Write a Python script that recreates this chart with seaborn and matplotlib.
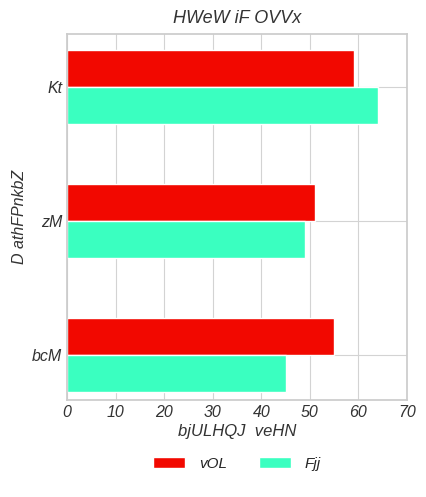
import matplotlib
matplotlib.use("Agg")
import matplotlib.pyplot as plt
import seaborn as sns
import pandas as pd

categories = ["Kt", "zM", "bcM"]
series_names = ["vOL", "Fjj"]
vol_values = [59, 51, 55]
fjj_values = [64, 49, 45]
colors = ["#f20800", "#3affc0"]
title = "HWeW iF OVVx"
xlabel = "bjULHQJ  veHN"
ylabel = "D athFPnkbZ"

sns.set_theme(style="whitegrid")
plt.rcParams["font.family"] = ["Liberation Sans", "DejaVu Sans"]
plt.rcParams["font.style"] = "italic"

df = pd.DataFrame({
    "cat": categories * 2,
    "val": vol_values + fjj_values,
    "series": [series_names[0]] * 3 + [series_names[1]] * 3,
})

fig = plt.figure(figsize=(4.26, 4.97), dpi=100)
ax = fig.add_axes([67 / 426, 1 - 400 / 497, 340 / 426, 366 / 497])
sns.barplot(data=df, x="val", y="cat", hue="series", orient="h",
            palette=colors, width=0.55, saturation=1, ax=ax,
            order=categories, hue_order=series_names, gap=0)
ax.set_xlim(0, 70)
ax.set_ylim(2.336, -0.396)
ax.set_xticks(range(0, 71, 10))
ax.grid(True, axis="both", color="#d3d3d3", linewidth=0.8)
ax.set_axisbelow(True)
for s in ax.spines.values():
    s.set_color("#cccccc")
ax.tick_params(axis="both", labelsize=11.5, colors="#333333", length=0)
for lbl in ax.get_xticklabels() + ax.get_yticklabels():
    lbl.set_fontstyle("italic")
ax.set_title(title, fontsize=13, color="#333333", style="italic", pad=8)
ax.set_xlabel(xlabel, fontsize=12, color="#333333", style="italic", labelpad=3)
ax.set_ylabel(ylabel, fontsize=11.5, color="#333333", style="italic", labelpad=3.5)
ax.legend_.remove()
handles, labels = ax.get_legend_handles_labels()
fig.legend(handles, labels, loc="center", bbox_to_anchor=(237 / 426, 1 - 464 / 497),
           ncol=2, frameon=False, handlelength=2.1, handleheight=0.75,
           columnspacing=2.1, handletextpad=0.9, prop={"style": "italic", "size": 11})
fig.savefig("out.png", dpi=100)
